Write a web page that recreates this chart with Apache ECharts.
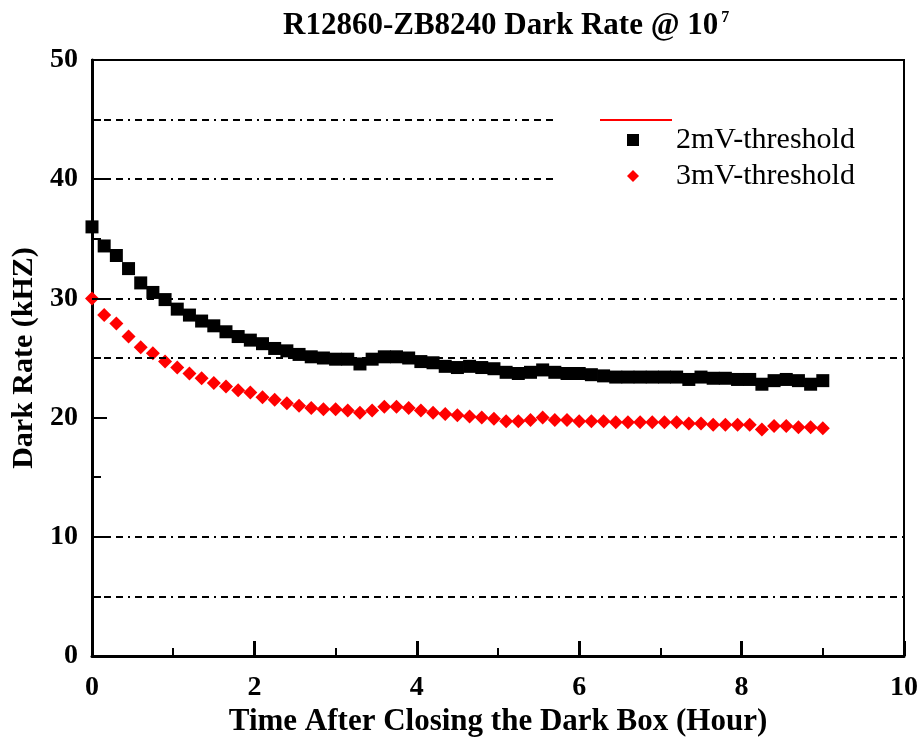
<!DOCTYPE html>
<html>
<head>
<meta charset="utf-8">
<script src="https://cdn.jsdelivr.net/npm/echarts@6/dist/echarts.min.js"></script>
<style>html,body{margin:0;padding:0;background:#fff}#c{width:919px;height:741px}</style>
</head>
<body>
<div id="c"></div>
<script>
var hours = [0.00,0.15,0.30,0.45,0.60,0.75,0.90,1.05,1.20,1.35,1.50,1.65,1.80,1.95,2.10,2.25,2.40,2.55,2.70,2.85,3.00,3.15,3.30,3.45,3.60,3.75,3.90,4.05,4.20,4.35,4.50,4.65,4.80,4.95,5.10,5.25,5.40,5.55,5.70,5.85,6.00,6.15,6.30,6.45,6.60,6.75,6.90,7.05,7.20,7.35,7.50,7.65,7.80,7.95,8.10,8.25,8.40,8.55,8.70,8.85,9.00];
var rate2mV = [36.0,34.4,33.6,32.5,31.3,30.5,29.9,29.1,28.6,28.1,27.7,27.2,26.8,26.5,26.2,25.8,25.6,25.3,25.1,25.0,24.9,24.9,24.5,24.9,25.1,25.1,25.0,24.7,24.6,24.3,24.2,24.3,24.2,24.1,23.8,23.7,23.8,24.0,23.8,23.7,23.7,23.6,23.5,23.4,23.4,23.4,23.4,23.4,23.4,23.2,23.4,23.3,23.3,23.2,23.2,22.8,23.1,23.2,23.1,22.8,23.1];
var rate3mV = [30.0,28.6,27.9,26.8,25.9,25.4,24.7,24.2,23.7,23.3,22.9,22.6,22.3,22.1,21.7,21.5,21.2,21.0,20.8,20.7,20.7,20.6,20.4,20.6,20.9,20.9,20.8,20.6,20.4,20.3,20.2,20.1,20.0,19.9,19.7,19.7,19.8,20.0,19.8,19.8,19.7,19.7,19.7,19.6,19.6,19.6,19.6,19.6,19.6,19.5,19.5,19.4,19.4,19.4,19.4,19.0,19.3,19.3,19.2,19.2,19.1];
var seriesNames = ['2mV-threshold','3mV-threshold'];
// reference dash-dot lines: [y value, x end]
var refLinesY = [45,40,30,25,10,5];
var refLinesXEnd = [5.7,5.7,10,10,10,10];

var FONT = 'Liberation Serif';
function pairs(xs, ys){ return xs.map(function(x,i){ return [x, ys[i]]; }); }

var chart = echarts.init(document.getElementById('c'), null, {renderer:'canvas'});
var option = {
  animation:false,
  backgroundColor:'#fff',
  title:{
    text:'{m|R12860-ZB8240 Dark Rate @ 10}{s|7}',
    left:278, top:5,
    textStyle:{
      rich:{
        m:{fontFamily:FONT,fontWeight:'bold',fontSize:31,color:'#000'},
        s:{fontFamily:FONT,fontWeight:'bold',fontSize:16,color:'#000',verticalAlign:'top',padding:[0,0,16,3]}
      }
    }
  },
  grid:{left:92,right:15,top:60,bottom:85,containLabel:false,outerBoundsMode:'none',show:true,borderColor:'#000',borderWidth:2,backgroundColor:'transparent'},
  legend:[{
    data:[{name:' ',icon:'rect'}],
    left:595, top:114, itemWidth:72, itemHeight:2,
    textStyle:{fontFamily:FONT,fontSize:1}, selectedMode:false
  },{
    data:[{name:seriesNames[0],icon:'rect'},{name:seriesNames[1],icon:'diamond'}],
    orient:'vertical', left:622, top:120, itemWidth:12, itemHeight:12, itemGap:6,
    textStyle:{fontFamily:FONT,fontSize:30,color:'#000',padding:[0,0,0,32]}, selectedMode:false
  }],
  xAxis:{
    type:'value', min:0, max:10, interval:2,
    name:'Time After Closing the Dark Box (Hour)', nameLocation:'middle', nameGap:50,
    nameTextStyle:{fontFamily:FONT,fontWeight:'bold',fontSize:31,color:'#000'},
    axisLine:{lineStyle:{color:'#000',width:3}},
    axisTick:{inside:true,length:15,lineStyle:{color:'#000',width:3}},
    minorTick:{show:true,splitNumber:2,length:8,lineStyle:{color:'#000',width:2}},
    axisLabel:{fontFamily:FONT,fontWeight:'bold',fontSize:28,color:'#000',margin:18},
    splitLine:{show:false}
  },
  yAxis:{
    type:'value', min:0, max:50, interval:10,
    name:'Dark Rate (kHZ)', nameLocation:'middle', nameGap:52, nameRotate:90,
    nameTextStyle:{fontFamily:FONT,fontWeight:'bold',fontSize:30,color:'#000'},
    axisLine:{lineStyle:{color:'#000',width:3}},
    axisTick:{inside:true,length:15,lineStyle:{color:'#000',width:2}},
    minorTick:{show:true,splitNumber:2,length:9,lineStyle:{color:'#000',width:2}},
    axisLabel:{fontFamily:FONT,fontWeight:'bold',fontSize:28,color:'#000',margin:14},
    splitLine:{show:false}
  },
  series:[
    {
      name:' ', type:'line', data:[], symbol:'none',
      itemStyle:{color:'#ff0000'}, lineStyle:{color:'#ff0000',width:2},
      markLine:{
        silent:true, symbol:['none','none'], label:{show:false},
        lineStyle:{color:'#000',width:2,type:[7,5,7,5,7,5,2,5],opacity:1},
        data: refLinesY.map(function(v,i){ return [{coord:[0,v]},{coord:[refLinesXEnd[i],v]}]; })
      }
    },
    {
      name:seriesNames[0], type:'scatter', symbol:'rect', symbolSize:13,
      itemStyle:{color:'#000',opacity:1}, data:pairs(hours, rate2mV)
    },
    {
      name:seriesNames[1], type:'scatter', symbol:'diamond', symbolSize:14,
      itemStyle:{color:'#ff0000',opacity:1}, data:pairs(hours, rate3mV)
    }
  ]
};
chart.setOption(option);
</script>
</body>
</html>
